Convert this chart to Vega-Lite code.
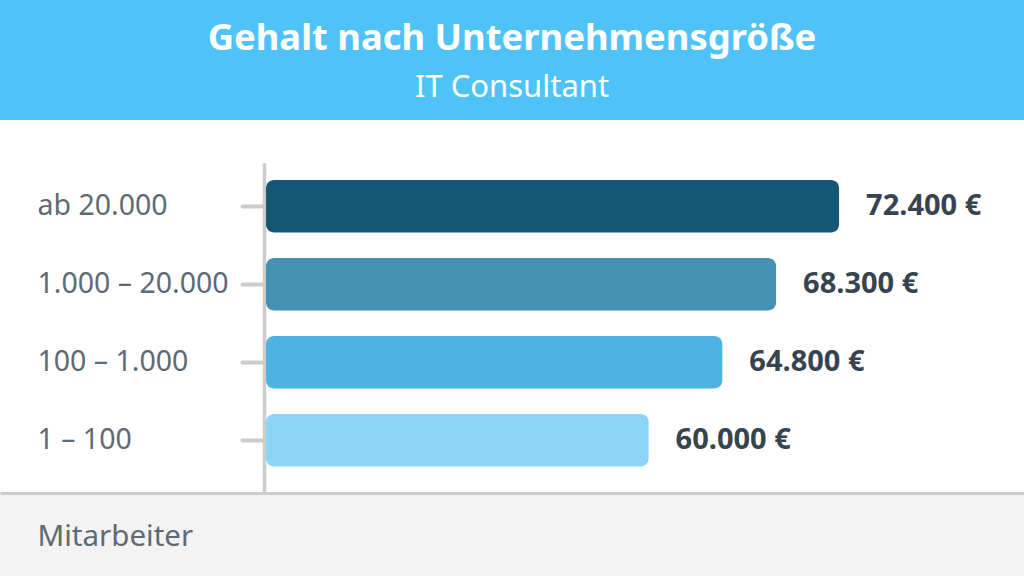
{
  "$schema": "https://vega.github.io/schema/vega-lite/v6.json",
  "padding": {"left": 0, "top": 0, "right": 0, "bottom": 30},
  "background": "#F3F3F3",
  "spacing": 0,
  "config": {
    "view": {"stroke": null},
    "font": "Noto Sans",
    "locale": {"number": {"decimal": ",", "thousands": ".", "grouping": [3], "currency": ["", " €"]}}
  },
  "vconcat": [
    {
      "width": 1024,
      "height": 120,
      "view": {"fill": "#4FC3F7", "stroke": null},
      "data": {"values": [
        {"line": "title", "text": "Gehalt nach Unternehmensgröße"},
        {"line": "subtitle", "text": "IT Consultant"}
      ]},
      "encoding": {
        "y": {"field": "line", "type": "nominal", "scale": {"domain": ["title", "subtitle"], "range": [50, 97], "padding": 0}, "axis": null},
        "text": {"field": "text"}
      },
      "layer": [
        {
          "transform": [{"filter": "datum.line === 'title'"}],
          "mark": {"type": "text", "font": "Noto Sans", "fontWeight": "bold", "fontSize": 36.4, "color": "#FFFFFF", "baseline": "alphabetic", "align": "center"}
        },
        {
          "transform": [{"filter": "datum.line === 'subtitle'"}],
          "mark": {"type": "text", "font": "Noto Sans", "fontWeight": "normal", "fontSize": 31, "color": "#FFFFFF", "baseline": "alphabetic", "align": "center"}
        }
      ]
    },
    {
      "width": 1024,
      "height": 373,
      "view": {"fill": "#FFFFFF", "stroke": null},
      "data": {"values": [
        {"Mitarbeiter": "ab 20.000", "Gehalt": 72400},
        {"Mitarbeiter": "1.000 – 20.000", "Gehalt": 68300},
        {"Mitarbeiter": "100 – 1.000", "Gehalt": 64800},
        {"Mitarbeiter": "1 – 100", "Gehalt": 60000}
      ]},
      "encoding": {
        "y": {
          "field": "Mitarbeiter", "type": "nominal", "sort": null,
          "scale": {"range": [44, 373], "paddingInner": 0.327, "paddingOuter": 0.272, "align": 0.376},
          "axis": {
            "title": "Mitarbeiter", "orient": "left", "offset": -264,
            "domainColor": "#CCCCCC", "domainWidth": 3.5, "domainCap": "round",
            "tickColor": "#CCCCCC", "tickWidth": 4, "tickSize": 22, "tickCap": "round",
            "labelPadding": 205, "labelAlign": "left", "labelBaseline": "middle", "labelLimit": 0,
            "labelFont": "Noto Sans", "labelFontSize": 28.5, "labelColor": "#5E6A74",
            "titleAngle": 0, "titleX": -227, "titleY": 425, "titleAlign": "left", "titleBaseline": "alphabetic",
            "titleFont": "Noto Sans", "titleFontSize": 29.5, "titleFontWeight": "normal", "titleColor": "#5E6A74",
            "grid": false
          }
        }
      },
      "layer": [
        {
          "mark": {"type": "bar", "cornerRadiusEnd": 8},
          "encoding": {
            "x": {
              "field": "Gehalt", "type": "quantitative",
              "scale": {"domain": [17770, 84440], "zero": false, "nice": false},
              "axis": {"orient": "bottom", "title": null, "labels": false, "ticks": false, "grid": false, "domain": true, "domainColor": "#CCCCCC", "domainWidth": 3}
            },
            "x2": {"datum": 35090},
            "color": {
              "field": "Mitarbeiter", "type": "nominal", "sort": null,
              "scale": {"range": ["#155675", "#4591B4", "#4DB3E3", "#8AD4F7"]},
              "legend": null
            }
          }
        },
        {
          "mark": {"type": "text", "align": "left", "baseline": "middle", "dx": 27, "font": "Noto Sans", "fontWeight": "bold", "fontSize": 29, "color": "#37444F"},
          "encoding": {
            "x": {"field": "Gehalt", "type": "quantitative"},
            "text": {"field": "Gehalt", "type": "quantitative", "format": "$,.0f"}
          }
        }
      ]
    }
  ]
}
